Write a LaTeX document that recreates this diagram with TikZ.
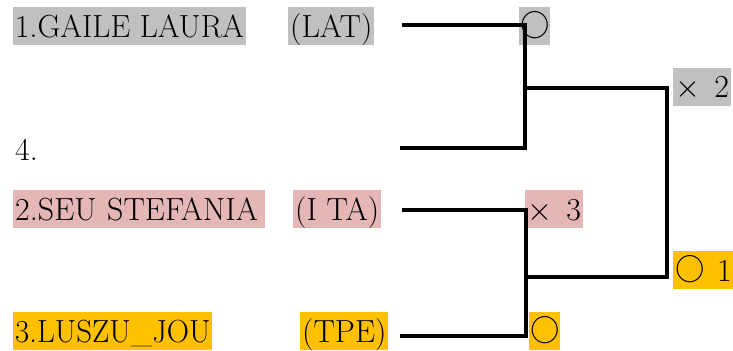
\documentclass[tikz,border=0pt]{standalone}
\definecolor{cgray}{RGB}{192,192,192}
\definecolor{cpink}{RGB}{228,182,182}
\definecolor{cgold}{RGB}{255,192,0}
\newcommand{\smallcirc}{\raisebox{2.3pt}{\scalebox{0.92}{$\bigcirc$}}}
\begin{document}
\begin{tikzpicture}[x=0.54pt,y=-0.54pt,
  lbl/.style={anchor=north west,inner sep=1pt,text height=15pt,text depth=3.5pt,font=\fontsize{17.28}{20}\selectfont},
  circ/.style={lbl,inner xsep=0.4pt},
  bline/.style={line width=2.16pt,line cap=butt,line join=miter}]
\useasboundingbox (0,0) rectangle (733,351);
% names and countries
\node[lbl,fill=cgray] (n1) at (13,7) {\scalebox{0.983}[1]{1.GAILE LAURA}};
\node[lbl,fill=cgray] (c1) at (288,7) {(LAT)};
\node[lbl] (n4) at (13,130) {4.};
\node[lbl,fill=cpink,text width=134pt,align=left] (n2) at (13,190) {2.SEU STEFANIA};
\node[lbl,fill=cpink] (c2) at (293,190) {(I TA)};
\node[lbl,fill=cgold] (n3) at (13,312) {\scalebox{0.965}[1]{3.LUSZU\_JOU}};
\node[lbl,fill=cgold] (c3) at (300,312) {(TPE)};
% results
\node[circ,fill=cgray] (r1) at (519,7) {\smallcirc};
\node[lbl,fill=cgray] (r2) at (673,68) {$\times$\hspace{7.7pt}2};
\node[lbl,fill=cpink] (r3) at (525,190) {$\times$\hspace{7.7pt}3};
\node[lbl,fill=cgold,inner xsep=1.2pt] (r4) at (673,251) {\smallcirc\hspace{6.5pt}1};
\node[circ,fill=cgold] (r5) at (529,312) {\smallcirc};
% bracket coordinates
\coordinate (a1) at (402,25);
\coordinate (a2) at (525,25);
\coordinate (b1) at (400,148);
\coordinate (b2) at (525,148);
\coordinate (m1) at (525,88);
\coordinate (m2) at (667,88);
\coordinate (c1s) at (402,210);
\coordinate (c2s) at (526,210);
\coordinate (d1) at (400,336);
\coordinate (d2) at (526,336);
\coordinate (k1) at (526,277);
\coordinate (k2) at (667,277);
\draw[bline] (a1) -- (a2) -- (b2) -- (b1);
\draw[bline] (c1s) -- (c2s) -- (d2) -- (d1);
\draw[bline] (m1) -- (m2) -- (k2) -- (k1);
\end{tikzpicture}
\end{document}
